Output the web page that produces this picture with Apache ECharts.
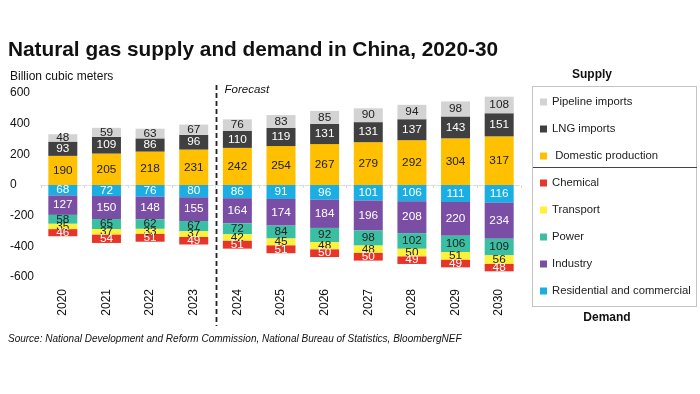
<!DOCTYPE html>
<html><head><meta charset="utf-8">
<script src="https://cdn.jsdelivr.net/npm/echarts@6/dist/echarts.min.js"></script>
<style>html,body{margin:0;padding:0;background:#fff}#c{width:700px;height:394px}</style>
</head><body><div id="c"></div>
<script>
const years = ['2020','2021','2022','2023','2024','2025','2026','2027','2028','2029','2030'];
const domestic = [190,205,218,231,242,254,267,279,292,304,317];
const lng = [93,109,86,96,110,119,131,131,137,143,151];
const pipeline = [48,59,63,67,76,83,85,90,94,98,108];
const residential = [68,72,76,80,86,91,96,101,106,111,116];
const industry = [127,150,148,155,164,174,184,196,208,220,234];
const power = [58,65,62,67,72,84,92,98,102,106,109];
const transport = [35,37,33,37,42,45,48,48,50,51,56];
const chemical = [46,54,51,49,51,51,50,50,49,49,48];
const yTicks = {min:-600, max:600, interval:200};
const forecastStart = '2024';

const font = 'Liberation Sans, Arial, sans-serif';
function ser(name, data, color, labelColor, negative){
  return {
    name, type:'bar', stack:'total', xAxisIndex:0,
    data: negative ? data.map(v=>-v) : data,
    barWidth: 29,
    itemStyle:{color},
    label:{show:true, position:'inside', color:labelColor, fontSize:11.8, fontFamily:font,
      formatter:p=>Math.abs(p.value)}
  };
}
const chart = echarts.init(document.getElementById('c'));
const option = {
  animation:false,
  textStyle:{fontFamily:font},
  grid:{left:41, right:179, top:93, bottom:117},
  xAxis:[
    {type:'category', data:years, position:'bottom',
     axisLine:{show:false, onZero:false}, axisTick:{show:false},
     axisLabel:{rotate:90, margin:12, color:'#111', fontSize:12, fontFamily:font}},
    {type:'category', data:years, position:'bottom',
     axisLine:{show:true, onZero:true, lineStyle:{color:'#d9d9d9', type:'dashed', width:1}},
     axisTick:{show:true, length:3, lineStyle:{color:'#d9d9d9'}},
     axisLabel:{show:false}}
  ],
  yAxis:{type:'value', min:yTicks.min, max:yTicks.max, interval:yTicks.interval,
    axisLine:{show:false}, axisTick:{show:false}, splitLine:{show:false},
    axisLabel:{align:'left', margin:31, color:'#111', fontSize:12, fontFamily:font}},
  legend:{
    orient:'vertical', left:540, top:95, padding:0, itemWidth:7, itemHeight:7, itemGap:13, icon:'rect',
    textStyle:{fontSize:11.3, color:'#222', fontFamily:font, lineHeight:14},
    formatter:n=> n==='Domestic production' ? ' '+n : n,
    data:['Pipeline imports','LNG imports','Domestic production','Chemical','Transport','Power','Industry','Residential and commercial']
  },
  series:[
    ser('Domestic production', domestic, '#ffc000', '#222', false),
    ser('LNG imports', lng, '#404040', '#fff', false),
    ser('Pipeline imports', pipeline, '#d3d3d3', '#222', false),
    ser('Residential and commercial', residential, '#1aaee5', '#fff', true),
    ser('Industry', industry, '#7a4ea5', '#fff', true),
    ser('Power', power, '#3bbfa3', '#222', true),
    ser('Transport', transport, '#fff03a', '#222', true),
    ser('Chemical', chemical, '#e8352a', '#fff', true)
  ]
};
chart.setOption(option);
const i = years.indexOf(forecastStart);
const xa = chart.convertToPixel({xAxisIndex:0}, years[i-1]);
const xb = chart.convertToPixel({xAxisIndex:0}, years[i]);
const xd = Math.round((xa+xb)/2)+0.5;
chart.setOption({graphic:[
  {type:'text', left:8, top:40, style:{text:'Natural gas supply and demand in China, 2020-30', font:'bold 20.8px '+font, fill:'#111'}},
  {type:'text', left:10, top:71, style:{text:'Billion cubic meters', font:'12px '+font, fill:'#111'}},
  {type:'text', left:xd+8, top:84, style:{text:'Forecast', font:'italic 11.5px '+font, fill:'#111'}},
  {type:'line', shape:{x1:xd, y1:85, x2:xd, y2:326}, style:{stroke:'#222', lineWidth:1.8, lineDash:[5,3]}},
  {type:'rect', shape:{x:532.5, y:86.5, width:164, height:220}, style:{fill:'none', stroke:'#888', lineWidth:1, lineDash:[1,1]}},
  {type:'line', shape:{x1:533, y1:167.5, x2:697, y2:167.5}, style:{stroke:'#444', lineWidth:1}},
  {type:'text', x:592, y:75, style:{text:'Supply', font:'bold 12px '+font, fill:'#111', align:'center', verticalAlign:'middle'}},
  {type:'text', x:607, y:318, style:{text:'Demand', font:'bold 12px '+font, fill:'#111', align:'center', verticalAlign:'middle'}},
  {type:'text', left:8, top:334, style:{text:'Source: National Development and Reform Commission, National Bureau of Statistics, BloombergNEF', font:'italic 10px '+font, fill:'#111'}}
]});
</script></body></html>
